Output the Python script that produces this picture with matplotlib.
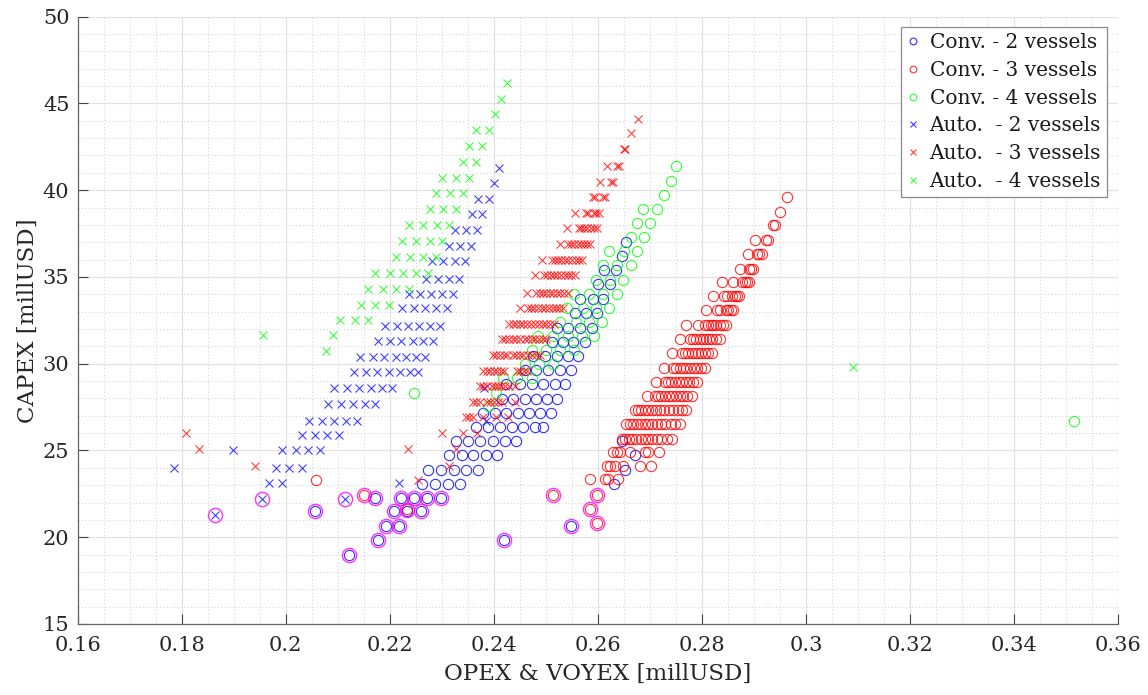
import matplotlib
matplotlib.use("Agg")
import matplotlib.pyplot as plt
from matplotlib.ticker import MultipleLocator, FuncFormatter

# ---------------------------------------------------------------------------
# Donnees : (CAPEX, [OPEX & VOYEX ...]) par rangee
# ---------------------------------------------------------------------------
conv2_rows = [
    (37.0, [0.2655]),
    (36.2, [0.2646]),
    (35.4, [0.2612, 0.2635]),
    (34.6, [0.2601, 0.2623]),
    (33.75, [0.2565, 0.2590, 0.2610]),
    (32.9, [0.2556, 0.2578, 0.2599]),
    (32.05, [0.2521, 0.2543, 0.2565, 0.2588]),
    (31.25, [0.2511, 0.2532, 0.2553, 0.2575]),
    (30.42, [0.2476, 0.2498, 0.2521, 0.2542, 0.2562]),
    (29.65, [0.2460, 0.2482, 0.2504, 0.2527, 0.2549]),
    (28.81, [0.2424, 0.2450, 0.2473, 0.2495, 0.2517, 0.2537]),
    (27.98, [0.2415, 0.2437, 0.2460, 0.2482, 0.2502, 0.2522]),
    (27.15, [0.2379, 0.2402, 0.2424, 0.2447, 0.2468, 0.2488, 0.2509]),
    (26.34, [0.2365, 0.2389, 0.2412, 0.2434, 0.2456, 0.2479, 0.2495]),
    (25.57, [0.2327, 0.2351, 0.2374, 0.2398, 0.2421, 0.2442, 0.2646]),
    (24.71, [0.2314, 0.2338, 0.2360, 0.2384, 0.2406, 0.2671]),
    (23.88, [0.2274, 0.2299, 0.2323, 0.2347, 0.2370, 0.2652]),
    (23.08, [0.2261, 0.2286, 0.2311, 0.2335, 0.2631]),
    (22.27, [0.2171, 0.2221, 0.2247, 0.2272, 0.2299]),
    (21.49, [0.2056, 0.2208, 0.2233, 0.2259]),
    (20.63, [0.2192, 0.2217, 0.2549]),
    (19.84, [0.2178, 0.2419]),
    (19.0, [0.2121]),
]

conv3_rows = [
    (39.6, [0.2964]),
    (38.75, [0.2951]),
    (37.98, [0.2936, 0.2940]),
    (37.11, [0.2902, 0.2924, 0.2928]),
    (36.31, [0.2889, 0.2906, 0.2910, 0.2915]),
    (35.48, [0.2874, 0.2890, 0.2894, 0.2899]),
    (34.71, [0.2838, 0.2860, 0.2878, 0.2882, 0.2886, 0.2890]),
    (33.88, [0.2822, 0.2843, 0.2848, 0.2858, 0.2863, 0.2867, 0.2872]),
    (33.08, [0.2808, 0.2829, 0.2834, 0.2846, 0.2851, 0.2856, 0.2860]),
    (32.25, [0.2770, 0.2793, 0.2806, 0.2811, 0.2817, 0.2822, 0.2828,
             0.2834, 0.2840, 0.2846]),
    (31.44, [0.2757, 0.2777, 0.2783, 0.2789, 0.2796, 0.2802, 0.2808,
             0.2814, 0.2820, 0.2827, 0.2835]),
    (30.61, [0.2742, 0.2761, 0.2767, 0.2773, 0.2780, 0.2786, 0.2792,
             0.2799, 0.2806, 0.2812, 0.2819]),
    (29.77, [0.2727, 0.2745, 0.2751, 0.2757, 0.2763, 0.2770, 0.2777,
             0.2784, 0.2791, 0.2798, 0.2805]),
    (28.94, [0.2712, 0.2729, 0.2735, 0.2741, 0.2748, 0.2755, 0.2762,
             0.2769, 0.2776, 0.2783, 0.2790]),
    (28.13, [0.2694, 0.2710, 0.2716, 0.2722, 0.2729, 0.2736, 0.2743,
             0.2750, 0.2757, 0.2764, 0.2772, 0.2780]),
    (27.31, [0.2671, 0.2677, 0.2683, 0.2690, 0.2697, 0.2704, 0.2712,
             0.2720, 0.2728, 0.2736, 0.2745, 0.2754, 0.2762, 0.2770]),
    (26.5, [0.2655, 0.2662, 0.2668, 0.2675, 0.2682, 0.2690, 0.2697,
            0.2705, 0.2713, 0.2721, 0.2730, 0.2740, 0.2748, 0.2758]),
    (25.67, [0.2646, 0.2652, 0.2659, 0.2666, 0.2674, 0.2682, 0.2690,
             0.2697, 0.2705, 0.2713, 0.2722, 0.2732, 0.2742]),
    (24.9, [0.2629, 0.2636, 0.2643, 0.2662, 0.2690, 0.2697, 0.2718]),
    (24.09, [0.2617, 0.2623, 0.2633, 0.2649, 0.2681, 0.2703]),
    (23.36, [0.2585, 0.2613, 0.2620, 0.2639]),
    (23.27, [0.2058]),
    (22.46, [0.2151, 0.2599]),
    (22.44, [0.2513]),
    (21.6, [0.2233, 0.2585]),
    (20.8, [0.2598]),
]

conv4_rows = [
    (41.38, [0.2750]),
    (40.54, [0.2740]),
    (39.75, [0.2728]),
    (38.94, [0.2687, 0.2713]),
    (38.11, [0.2676, 0.2701]),
    (37.31, [0.2663, 0.2688]),
    (36.5, [0.2622, 0.2650, 0.2676]),
    (35.67, [0.2609, 0.2637, 0.2663]),
    (34.85, [0.2596, 0.2623, 0.2648]),
    (34.04, [0.2554, 0.2583, 0.2610, 0.2636]),
    (33.23, [0.2541, 0.2571, 0.2596, 0.2622]),
    (32.4, [0.2528, 0.2558, 0.2583, 0.2607]),
    (31.58, [0.2485, 0.2514, 0.2543, 0.2569, 0.2592]),
    (30.81, [0.2474, 0.2501, 0.2527, 0.2554]),
    (29.96, [0.2460, 0.2487, 0.2513]),
    (29.19, [0.2418, 0.2445, 0.2473]),
    (28.34, [0.2246, 0.2404]),
    (27.59, [0.2389]),
    (26.67, [0.3515]),
]

auto2_rows = [
    (41.3, [0.2410]),
    (40.4, [0.2401]),
    (39.5, [0.2369, 0.2390]),
    (38.6, [0.2358, 0.2378]),
    (37.7, [0.2325, 0.2346, 0.2367]),
    (36.8, [0.2314, 0.2335, 0.2356]),
    (35.9, [0.2281, 0.2303, 0.2325, 0.2345]),
    (34.9, [0.2269, 0.2292, 0.2313, 0.2333]),
    (34.0, [0.2236, 0.2258, 0.2280, 0.2301, 0.2321]),
    (33.2, [0.2224, 0.2247, 0.2268, 0.2289, 0.2309]),
    (32.2, [0.2191, 0.2213, 0.2235, 0.2256, 0.2277, 0.2296]),
    (31.3, [0.2178, 0.2201, 0.2222, 0.2244, 0.2264, 0.2283]),
    (30.4, [0.2143, 0.2167, 0.2189, 0.2212, 0.2232, 0.2250, 0.2268]),
    (29.5, [0.2131, 0.2154, 0.2176, 0.2199, 0.2219, 0.2239, 0.2255]),
    (28.6, [0.2093, 0.2118, 0.2141, 0.2163, 0.2185, 0.2205, 0.2381]),
    (27.7, [0.2081, 0.2106, 0.2129, 0.2152, 0.2172]),
    (26.7, [0.2045, 0.2069, 0.2093, 0.2115, 0.2137, 0.2385]),
    (25.9, [0.2032, 0.2056, 0.2080, 0.2102]),
    (25.0, [0.1898, 0.1993, 0.2019, 0.2043, 0.2066]),
    (24.0, [0.1785, 0.1981, 0.2006, 0.2031]),
    (23.1, [0.1968, 0.1992, 0.2217]),
    (22.2, [0.1954, 0.2113]),
    (21.3, [0.1864]),
]

auto3_rows = [
    (44.1, [0.2678]),
    (43.3, [0.2663]),
    (42.4, [0.2650, 0.2653]),
    (41.4, [0.2617, 0.2637, 0.2641]),
    (40.5, [0.2604, 0.2626, 0.2630]),
    (39.6, [0.2590, 0.2594, 0.2610, 0.2614]),
    (38.7, [0.2556, 0.2577, 0.2581, 0.2592, 0.2597, 0.2602]),
    (37.8, [0.2541, 0.2563, 0.2568, 0.2573, 0.2580, 0.2586, 0.2592,
            0.2598]),
    (36.9, [0.2528, 0.2543, 0.2549, 0.2555, 0.2561, 0.2567, 0.2573,
            0.2579, 0.2585]),
    (36.0, [0.2492, 0.2511, 0.2517, 0.2523, 0.2530, 0.2536, 0.2543,
            0.2550, 0.2557, 0.2563, 0.2569]),
    (35.1, [0.2479, 0.2496, 0.2502, 0.2509, 0.2515, 0.2522, 0.2529,
            0.2536, 0.2543, 0.2549, 0.2556]),
    (34.1, [0.2464, 0.2482, 0.2488, 0.2494, 0.2500, 0.2507, 0.2514,
            0.2521, 0.2528, 0.2535, 0.2543]),
    (33.2, [0.2450, 0.2466, 0.2472, 0.2478, 0.2485, 0.2492, 0.2499,
            0.2506, 0.2513, 0.2520, 0.2526, 0.2532]),
    (32.3, [0.2429, 0.2436, 0.2443, 0.2450, 0.2457, 0.2464, 0.2472,
            0.2480, 0.2487, 0.2494, 0.2501, 0.2508, 0.2515]),
    (31.4, [0.2415, 0.2422, 0.2429, 0.2436, 0.2443, 0.2451, 0.2459,
            0.2466, 0.2473, 0.2480, 0.2487, 0.2494, 0.2501]),
    (30.5, [0.2399, 0.2405, 0.2412, 0.2419, 0.2426, 0.2436, 0.2443,
            0.2450, 0.2457, 0.2465, 0.2474, 0.2481, 0.2488]),
    (29.6, [0.2379, 0.2386, 0.2393, 0.2400, 0.2406, 0.2413, 0.2420,
            0.2444, 0.2451, 0.2458, 0.2464]),
    (28.7, [0.2373, 0.2379, 0.2386, 0.2396, 0.2402, 0.2408, 0.2413,
            0.2422, 0.2429, 0.2440]),
    (27.8, [0.2360, 0.2366, 0.2373, 0.2386, 0.2393, 0.2400, 0.2408,
            0.2415, 0.2440]),
    (26.9, [0.2347, 0.2353, 0.2360, 0.2380, 0.2404, 0.2428]),
    (26.0, [0.1809, 0.2301, 0.2341, 0.2367]),
    (25.1, [0.1833, 0.2235, 0.2327]),
    (24.1, [0.1940, 0.2313]),
    (23.3, [0.2254]),
]

auto4_rows = [
    (46.2, [0.2426]),
    (45.25, [0.2413]),
    (44.37, [0.2402]),
    (43.46, [0.2365, 0.2391]),
    (42.54, [0.2352, 0.2377]),
    (41.63, [0.2340, 0.2365]),
    (40.71, [0.2301, 0.2328, 0.2353]),
    (39.81, [0.2288, 0.2315, 0.2340]),
    (38.89, [0.2277, 0.2302, 0.2328]),
    (37.98, [0.2237, 0.2264, 0.2290, 0.2314]),
    (37.06, [0.2224, 0.2251, 0.2277, 0.2301]),
    (36.15, [0.2212, 0.2238, 0.2264, 0.2288]),
    (35.25, [0.2171, 0.2200, 0.2226, 0.2250, 0.2274]),
    (34.33, [0.2158, 0.2186, 0.2212, 0.2237]),
    (33.4, [0.2144, 0.2172, 0.2199]),
    (32.54, [0.2104, 0.2133, 0.2158]),
    (31.63, [0.1956, 0.2091]),
    (30.71, [0.2078]),
    (29.8, [0.3090]),
]

# points entoures en magenta (solutions retenues)
best_opex = [0.1864, 0.1954, 0.2113, 0.2171, 0.2221, 0.2247, 0.2272,
             0.2299, 0.2056, 0.2208, 0.2233, 0.2259, 0.2192, 0.2217,
             0.2178, 0.2419, 0.2121, 0.2549, 0.2151, 0.2513, 0.2599,
             0.2585, 0.2598]
best_capex = [21.3, 22.2, 22.2, 22.27, 22.27, 22.27, 22.27,
              22.27, 21.49, 21.49, 21.55, 21.49, 20.63, 20.63,
              19.84, 19.84, 19.0, 20.63, 22.46, 22.44, 22.46,
              21.6, 20.8]

x_ticks = [0.16, 0.18, 0.2, 0.22, 0.24, 0.26, 0.28, 0.3, 0.32, 0.34, 0.36]
y_ticks = [15, 20, 25, 30, 35, 40, 45, 50]


def flatten(rows):
    """Transforme les rangees (capex, [opex]) en deux listes x, y."""
    xs, ys = [], []
    for capex, opex_list in rows:
        for opex in opex_list:
            xs.append(opex)
            ys.append(capex)
    return xs, ys


# ---------------------------------------------------------------------------
# Figure
# ---------------------------------------------------------------------------
plt.rcParams["font.family"] = "DejaVu Serif"

fig = plt.figure(figsize=(11.48, 6.95), dpi=100)
ax = fig.add_axes([0.0677, 0.1022, 0.9062, 0.8738])

series = [
    (conv2_rows, "o", "#0000ff", "Conv. - 2 vessels"),
    (conv3_rows, "o", "#ff0000", "Conv. - 3 vessels"),
    (conv4_rows, "o", "#00ff00", "Conv. - 4 vessels"),
    (auto2_rows, "x", "#0000ff", "Auto.  - 2 vessels"),
    (auto3_rows, "x", "#ff0000", "Auto.  - 3 vessels"),
    (auto4_rows, "x", "#00ff00", "Auto.  - 4 vessels"),
]
for rows, marker, color, label in series:
    xs, ys = flatten(rows)
    if marker == "o":
        ax.plot(xs, ys, linestyle="none", marker="o", markersize=7.4,
                markerfacecolor="none", markeredgecolor=color,
                markeredgewidth=0.8, alpha=0.8, label=label)
    else:
        ax.plot(xs, ys, linestyle="none", marker="x", markersize=5.6,
                markeredgecolor=color, markeredgewidth=0.8, alpha=0.75,
                label=label)

ax.plot(best_opex, best_capex, linestyle="none", marker="o",
        markersize=10.2, markerfacecolor="none", markeredgecolor="#ff00ff",
        markeredgewidth=1.0, alpha=0.8)

# axes facon MATLAB
ax.set_xlim(0.16, 0.36)
ax.set_ylim(15, 50)
ax.set_xticks(x_ticks)
ax.set_yticks(y_ticks)
ax.xaxis.set_major_formatter(FuncFormatter(lambda v, p: f"{v:g}"))
ax.xaxis.set_minor_locator(MultipleLocator(0.005))
ax.yaxis.set_minor_locator(MultipleLocator(1))
ax.tick_params(which="major", direction="in", length=7, width=0.8,
               color="#444444", labelsize=15, labelcolor="#262626")
ax.tick_params(axis="x", which="major", pad=9)
ax.tick_params(axis="y", which="major", pad=6)
ax.tick_params(which="minor", length=0)

ax.grid(which="major", color="#e2e2e2", linewidth=0.9, linestyle="-")
ax.grid(which="minor", color="#cfcfcf", linewidth=0.7, linestyle=(0, (1, 2.5)))
ax.set_axisbelow(True)

for side in ("top", "right"):
    ax.spines[side].set_visible(False)
for side in ("left", "bottom"):
    ax.spines[side].set_color("#666666")
    ax.spines[side].set_linewidth(0.9)

ax.set_xlabel("OPEX & VOYEX [millUSD]", fontsize=16.5, color="#262626",
              labelpad=5)
ax.set_ylabel("CAPEX [millUSD]", fontsize=16.5, color="#262626", labelpad=3)

leg = ax.legend(loc="upper right", bbox_to_anchor=(0.9643, 0.9607),
                bbox_transform=fig.transFigure, borderaxespad=0,
                fontsize=14.5, markerscale=0.65, handlelength=0.6,
                handletextpad=0.5, labelspacing=0.43, borderpad=0.3,
                fancybox=False, framealpha=1, edgecolor="#8a8a8a")
leg.get_frame().set_linewidth(0.9)
for txt in leg.get_texts():
    txt.set_color("#1a1a1a")

fig.savefig("out.png", dpi=100)
